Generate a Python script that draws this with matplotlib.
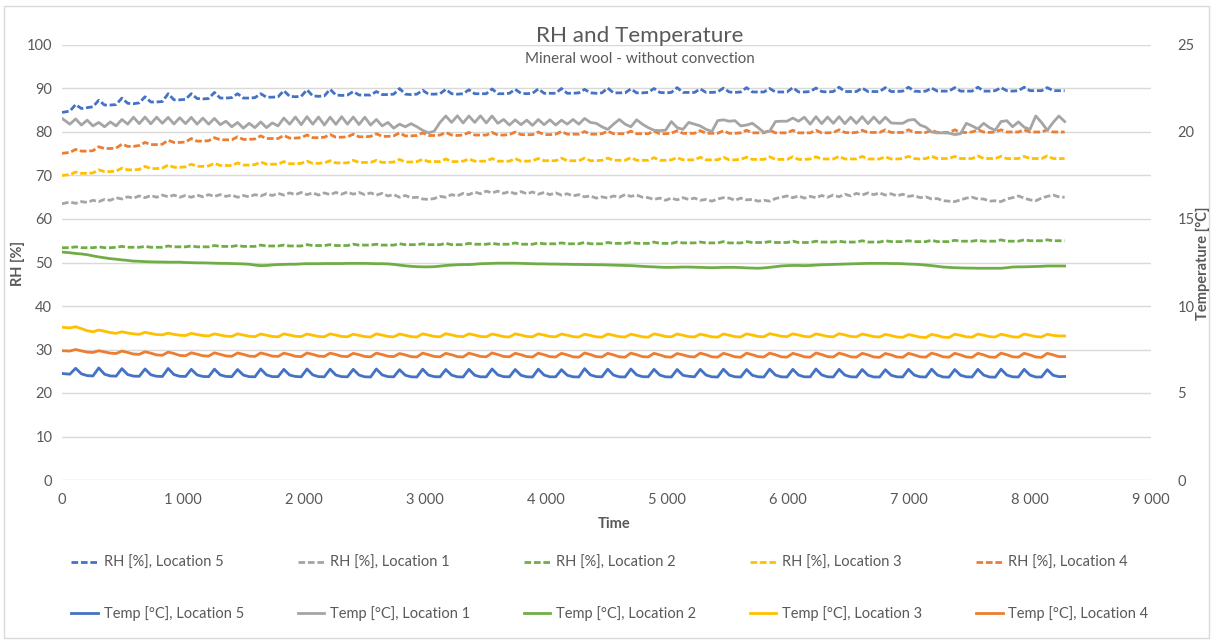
import numpy as np
import matplotlib
matplotlib.use("Agg")
import matplotlib.pyplot as plt
from matplotlib.ticker import FuncFormatter, MultipleLocator
from matplotlib.patches import Rectangle

plt.rcParams['font.family'] = ['Lato', 'DejaVu Sans']

# ---------------- data ----------------
sample_interval = 47.8
time = np.concatenate([[0.0], 17 + sample_interval * np.arange(1, 174)])

rh_loc5 = [84.5, 84.8,
    86.3, 85.4, 85.6, 85.8, 87.3, 86.2, 86.2, 86.3, 87.8, 86.6, 86.5, 86.7, 88.1, 86.9, 86.9, 87.0,
    88.8, 87.4, 87.4, 87.5, 88.8, 87.7, 87.6, 87.7, 89.1, 87.8, 87.8, 87.9, 88.8, 87.8, 87.8, 87.9,
    88.8, 88.0, 88.0, 88.1, 89.5, 88.2, 88.1, 88.2, 89.7, 88.3, 88.2, 88.3, 89.8, 88.5, 88.4, 88.5,
    89.3, 88.5, 88.5, 88.5, 89.3, 88.6, 88.6, 88.7, 90.0, 88.7, 88.6, 88.7, 89.6, 88.7, 88.7, 88.8,
    89.8, 88.8, 88.7, 88.8, 89.7, 88.8, 88.8, 88.8, 89.9, 88.8, 88.8, 88.9, 89.8, 88.9, 88.8, 88.9,
    89.9, 88.9, 88.9, 88.9, 90.0, 88.9, 88.9, 89.0, 89.8, 89.0, 88.9, 89.0, 90.1, 89.0, 89.0, 89.0,
    89.9, 89.0, 89.0, 89.1, 90.0, 89.1, 89.0, 89.1, 90.2, 89.1, 89.1, 89.1, 89.9, 89.1, 89.1, 89.2,
    90.1, 89.2, 89.1, 89.2, 90.2, 89.2, 89.2, 89.2, 90.0, 89.2, 89.2, 89.2, 90.2, 89.2, 89.2, 89.3,
    90.1, 89.3, 89.2, 89.3, 90.3, 89.3, 89.3, 89.3, 90.1, 89.3, 89.3, 89.3, 90.2, 89.3, 89.3, 89.4,
    90.3, 89.4, 89.3, 89.4, 90.1, 89.4, 89.4, 89.4, 90.2, 89.4, 89.4, 89.4, 90.3, 89.4, 89.4, 89.5,
    90.2, 89.5, 89.4, 89.5, 90.3, 89.5, 89.5, 89.5, 90.2, 89.5, 89.5, 89.5]

rh_loc1 = [63.5, 63.9, 63.6, 64.0, 63.8, 64.3, 64.0, 64.5, 64.3, 64.9,
    64.6, 65.1, 64.8, 65.3, 64.9, 65.4, 65.0, 65.5, 65.1, 65.5,
    65.0, 65.4, 65.0, 65.5, 65.1, 65.6, 65.2, 65.6, 65.2, 65.5,
    65.0, 65.4, 65.1, 65.6, 65.3, 65.8, 65.4, 65.9, 65.5, 66.0,
    65.6, 66.1, 65.6, 66.0, 65.5, 66.0, 65.6, 66.1, 65.7, 66.2,
    65.7, 66.1, 65.6, 66.0, 65.5, 65.9, 65.3, 65.6, 65.0, 65.4,
    64.9, 65.0, 64.6, 64.5, 64.7, 65.2, 65.0, 65.6, 65.3, 65.9,
    65.6, 66.2, 65.8, 66.4, 66.0, 66.4, 65.9, 66.3, 65.8, 66.3,
    65.8, 66.2, 65.7, 66.1, 65.6, 66.0, 65.5, 65.8, 65.3, 65.6,
    65.1, 65.3, 64.8, 65.1, 64.8, 65.3, 65.0, 65.6, 65.2, 65.5,
    65.0, 64.9, 64.5, 64.8, 64.3, 64.8, 64.4, 64.9, 64.5, 64.8,
    64.3, 64.5, 64.1, 64.6, 64.9, 64.8, 64.3, 64.8, 64.4, 64.5,
    64.1, 64.3, 64.1, 64.7, 65.0, 65.3, 64.9, 65.3, 64.8, 65.2,
    64.9, 65.4, 65.0, 65.5, 65.1, 65.7, 65.3, 65.9, 65.5, 66.0,
    65.6, 66.0, 65.5, 65.8, 65.3, 65.7, 65.2, 65.4, 64.9, 65.1,
    64.6, 64.7, 64.2, 64.1, 64.0, 64.4, 64.8, 65.0, 64.6, 64.6,
    64.1, 64.2, 64.0, 64.6, 64.9, 65.3, 64.8, 64.4, 64.2, 64.8,
    65.2, 65.5, 65.1, 65.0]

rh_loc2 = [53.4, 53.4,
    53.6, 53.4, 53.4, 53.4, 53.6, 53.4, 53.4, 53.5, 53.7, 53.5, 53.5, 53.5, 53.7, 53.5, 53.5, 53.5,
    53.8, 53.6, 53.6, 53.6, 53.8, 53.6, 53.6, 53.6, 53.9, 53.7, 53.7, 53.7, 53.9, 53.7, 53.7, 53.7,
    54.0, 53.8, 53.8, 53.8, 54.0, 53.8, 53.8, 53.8, 54.1, 53.9, 53.9, 53.9, 54.1, 53.9, 53.9, 53.9,
    54.2, 54.0, 54.0, 54.0, 54.2, 54.0, 54.0, 54.0, 54.3, 54.1, 54.1, 54.1, 54.3, 54.1, 54.1, 54.1,
    54.4, 54.1, 54.1, 54.1, 54.4, 54.2, 54.2, 54.2, 54.4, 54.2, 54.2, 54.2, 54.5, 54.2, 54.2, 54.2,
    54.5, 54.3, 54.3, 54.3, 54.5, 54.3, 54.3, 54.3, 54.6, 54.3, 54.3, 54.3, 54.6, 54.4, 54.4, 54.4,
    54.6, 54.4, 54.4, 54.4, 54.7, 54.4, 54.4, 54.4, 54.7, 54.5, 54.5, 54.5, 54.7, 54.5, 54.5, 54.5,
    54.8, 54.5, 54.5, 54.5, 54.8, 54.6, 54.6, 54.6, 54.8, 54.6, 54.6, 54.6, 54.9, 54.6, 54.6, 54.6,
    54.9, 54.7, 54.7, 54.7, 54.9, 54.7, 54.7, 54.7, 55.0, 54.7, 54.7, 54.7, 55.0, 54.8, 54.8, 54.8,
    55.0, 54.8, 54.8, 54.8, 55.1, 54.8, 54.8, 54.8, 55.1, 54.9, 54.9, 54.9, 55.1, 54.9, 54.9, 54.9,
    55.2, 54.9, 54.9, 54.9, 55.2, 55.0, 55.0, 55.0, 55.2, 55.0, 55.0, 55.0]

rh_loc3 = [70.0, 70.2,
    70.8, 70.5, 70.5, 70.6, 71.3, 70.9, 70.9, 71.0, 71.7, 71.3, 71.3, 71.4, 72.1, 71.6, 71.6, 71.7,
    72.4, 71.9, 71.9, 72.0, 72.6, 72.1, 72.1, 72.2, 72.8, 72.3, 72.3, 72.3, 72.9, 72.4, 72.4, 72.5,
    73.1, 72.6, 72.6, 72.6, 73.2, 72.7, 72.7, 72.8, 73.3, 72.8, 72.8, 72.9, 73.4, 72.9, 72.9, 72.9,
    73.5, 73.0, 73.0, 73.0, 73.5, 73.0, 73.0, 73.1, 73.7, 73.1, 73.1, 73.2, 73.7, 73.2, 73.2, 73.2,
    73.8, 73.2, 73.2, 73.3, 73.8, 73.3, 73.3, 73.3, 73.9, 73.3, 73.3, 73.3, 73.9, 73.3, 73.3, 73.4,
    73.9, 73.4, 73.4, 73.4, 74.0, 73.4, 73.4, 73.4, 74.0, 73.4, 73.4, 73.5, 74.0, 73.5, 73.5, 73.5,
    74.1, 73.5, 73.5, 73.5, 74.1, 73.5, 73.5, 73.6, 74.1, 73.6, 73.6, 73.6, 74.2, 73.6, 73.6, 73.6,
    74.2, 73.6, 73.6, 73.7, 74.2, 73.7, 73.7, 73.7, 74.3, 73.7, 73.7, 73.7, 74.3, 73.7, 73.7, 73.8,
    74.3, 73.8, 73.8, 73.8, 74.4, 73.8, 73.8, 73.8, 74.4, 73.8, 73.8, 73.8, 74.3, 73.8, 73.8, 73.9,
    74.4, 73.9, 73.8, 73.9, 74.4, 73.9, 73.9, 73.9, 74.4, 73.9, 73.9, 73.9, 74.5, 73.9, 73.9, 73.9,
    74.4, 73.9, 73.9, 73.9, 74.4, 73.9, 73.9, 73.9, 74.5, 73.9, 73.9, 73.9]

rh_loc4 = [75.1, 75.3,
    76.0, 75.6, 75.6, 75.7, 76.6, 76.2, 76.2, 76.3, 77.2, 76.7, 76.7, 76.9, 77.6, 77.1, 77.1, 77.2,
    78.1, 77.6, 77.6, 77.7, 78.5, 77.9, 77.9, 78.0, 78.7, 78.2, 78.2, 78.2, 78.9, 78.3, 78.3, 78.4,
    79.1, 78.5, 78.5, 78.5, 79.2, 78.6, 78.6, 78.7, 79.3, 78.7, 78.7, 78.8, 79.4, 78.8, 78.8, 78.9,
    79.5, 78.9, 78.9, 79.0, 79.6, 79.0, 79.0, 79.1, 79.8, 79.1, 79.1, 79.2, 79.8, 79.2, 79.2, 79.3,
    79.9, 79.3, 79.2, 79.3, 79.9, 79.3, 79.3, 79.3, 79.9, 79.3, 79.3, 79.4, 80.0, 79.4, 79.4, 79.4,
    80.0, 79.4, 79.4, 79.5, 80.1, 79.5, 79.5, 79.5, 80.1, 79.5, 79.5, 79.6, 80.2, 79.6, 79.6, 79.6,
    80.2, 79.6, 79.6, 79.6, 80.2, 79.6, 79.6, 79.7, 80.3, 79.7, 79.7, 79.7, 80.3, 79.7, 79.7, 79.7,
    80.3, 79.7, 79.7, 79.8, 80.4, 79.8, 79.8, 79.8, 80.4, 79.8, 79.8, 79.8, 80.4, 79.8, 79.8, 79.8,
    80.4, 79.8, 79.8, 79.9, 80.5, 79.9, 79.8, 79.9, 80.4, 79.9, 79.9, 79.9, 80.5, 79.9, 79.9, 79.9,
    80.5, 79.9, 79.9, 79.9, 80.4, 79.9, 79.9, 79.9, 80.5, 79.9, 79.9, 80.0, 80.5, 80.0, 79.9, 80.0,
    80.5, 80.0, 80.0, 80.0, 80.5, 80.0, 80.0, 80.0, 80.5, 80.0, 80.0, 80.0]

temp_loc5 = [6.12, 6.08,
    6.42, 6.10, 6.00, 5.98, 6.44, 6.08, 5.98, 5.97, 6.40, 6.06, 5.97, 5.96, 6.38, 6.05, 5.96, 5.95,
    6.41, 6.06, 5.96, 5.95, 6.36, 6.04, 5.95, 5.94, 6.37, 6.04, 5.95, 5.94, 6.35, 6.03, 5.94, 5.93,
    6.38, 6.04, 5.94, 5.94, 6.36, 6.03, 5.95, 5.93, 6.38, 6.04, 5.94, 5.93, 6.37, 6.03, 5.94, 5.93,
    6.36, 6.03, 5.93, 5.92, 6.38, 6.04, 5.94, 5.93, 6.34, 6.02, 5.93, 5.92, 6.37, 6.03, 5.94, 5.93,
    6.35, 6.03, 5.93, 5.92, 6.36, 6.02, 5.93, 5.93, 6.38, 6.04, 5.94, 5.93, 6.35, 6.02, 5.93, 5.92,
    6.37, 6.03, 5.93, 5.93, 6.34, 6.02, 5.93, 5.92, 6.40, 6.04, 5.94, 5.93, 6.37, 6.03, 5.93, 5.92,
    6.38, 6.04, 5.94, 5.93, 6.36, 6.03, 5.93, 5.92, 6.35, 6.02, 5.96, 5.93, 6.36, 6.03, 5.93, 5.92,
    6.37, 6.03, 5.93, 5.92, 6.35, 6.02, 5.93, 5.92, 6.37, 6.03, 5.93, 5.92, 6.36, 6.03, 5.93, 5.93,
    6.38, 6.04, 5.93, 5.92, 6.36, 6.03, 5.93, 5.92, 6.35, 6.02, 5.92, 5.92, 6.34, 6.02, 5.93, 5.92,
    6.36, 6.03, 5.93, 5.92, 6.37, 6.03, 5.92, 5.91, 6.35, 6.02, 5.93, 5.92, 6.36, 6.03, 5.92, 5.91,
    6.37, 6.03, 5.93, 5.92, 6.36, 6.03, 5.92, 5.92, 6.34, 6.02, 5.94, 5.95]

temp_loc1 = [20.78, 20.45, 20.75, 20.40, 20.68, 20.35, 20.55, 20.30, 20.58, 20.35,
    20.72, 20.45, 20.85, 20.48, 20.86, 20.47, 20.85, 20.50, 20.84, 20.46,
    20.82, 20.48, 20.84, 20.45, 20.80, 20.45, 20.78, 20.42, 20.62, 20.30,
    20.55, 20.22, 20.50, 20.25, 20.58, 20.25, 20.52, 20.35, 20.80, 20.45,
    20.86, 20.42, 20.88, 20.45, 20.86, 20.40, 20.85, 20.44, 20.88, 20.45,
    20.86, 20.43, 20.85, 20.40, 20.72, 20.35, 20.55, 20.22, 20.45, 20.30,
    20.48, 20.30, 20.10, 19.95, 20.05, 20.55, 20.92, 20.55, 20.93, 20.52,
    20.92, 20.55, 20.93, 20.52, 20.92, 20.50, 20.72, 20.40, 20.70, 20.42,
    20.68, 20.38, 20.72, 20.42, 20.70, 20.40, 20.68, 20.45, 20.72, 20.45,
    20.78, 20.55, 20.50, 20.30, 20.15, 20.45, 20.72, 20.45, 20.30, 20.70,
    20.45, 20.25, 20.10, 20.08, 20.10, 20.60, 20.25, 20.15, 20.55, 20.45,
    20.35, 20.15, 20.03, 20.65, 20.70, 20.62, 20.65, 20.35, 20.40, 20.50,
    20.25, 19.98, 20.05, 20.60, 20.62, 20.62, 20.80, 20.62, 20.85, 20.45,
    20.88, 20.48, 20.86, 20.50, 20.88, 20.48, 20.85, 20.50, 20.88, 20.48,
    20.86, 20.50, 20.85, 20.52, 20.50, 20.50, 20.68, 20.72, 20.40, 20.28,
    20.00, 19.95, 19.95, 19.93, 19.85, 19.90, 20.50, 20.35, 20.18, 20.50,
    20.25, 20.10, 20.60, 20.65, 20.30, 20.58, 20.28, 20.15, 20.92, 20.55,
    20.10, 20.55, 20.92, 20.60]

temp_loc2 = [13.10, 13.06, 13.02, 12.99, 12.95, 12.88, 12.82, 12.77, 12.72, 12.69,
    12.65, 12.62, 12.58, 12.57, 12.55, 12.54, 12.53, 12.53, 12.52, 12.52,
    12.52, 12.50, 12.49, 12.48, 12.48, 12.47, 12.46, 12.45, 12.45, 12.44,
    12.43, 12.42, 12.40, 12.35, 12.32, 12.33, 12.36, 12.38, 12.39, 12.40,
    12.40, 12.42, 12.43, 12.43, 12.43, 12.44, 12.44, 12.44, 12.44, 12.45,
    12.45, 12.45, 12.45, 12.44, 12.43, 12.43, 12.42, 12.39, 12.35, 12.31,
    12.28, 12.26, 12.25, 12.25, 12.26, 12.29, 12.33, 12.35, 12.37, 12.38,
    12.38, 12.40, 12.43, 12.44, 12.45, 12.46, 12.46, 12.46, 12.46, 12.45,
    12.44, 12.43, 12.42, 12.42, 12.41, 12.41, 12.40, 12.40, 12.39, 12.39,
    12.38, 12.38, 12.37, 12.37, 12.36, 12.35, 12.34, 12.33, 12.32, 12.30,
    12.28, 12.26, 12.25, 12.23, 12.22, 12.22, 12.23, 12.24, 12.24, 12.23,
    12.22, 12.21, 12.20, 12.21, 12.22, 12.22, 12.22, 12.21, 12.19, 12.18,
    12.17, 12.19, 12.22, 12.26, 12.30, 12.32, 12.33, 12.33, 12.32, 12.33,
    12.35, 12.37, 12.38, 12.39, 12.40, 12.41, 12.42, 12.43, 12.44, 12.45,
    12.45, 12.45, 12.45, 12.44, 12.44, 12.43, 12.41, 12.40, 12.38, 12.35,
    12.32, 12.28, 12.24, 12.22, 12.20, 12.19, 12.18, 12.18, 12.17, 12.17,
    12.17, 12.17, 12.17, 12.20, 12.24, 12.25, 12.25, 12.26, 12.27, 12.28,
    12.30, 12.30, 12.30, 12.30]

temp_loc3 = [8.78, 8.74,
    8.81, 8.70, 8.58, 8.52, 8.62, 8.55, 8.47, 8.43, 8.52, 8.45, 8.40, 8.37, 8.49, 8.42, 8.36, 8.34,
    8.44, 8.37, 8.32, 8.30, 8.43, 8.36, 8.30, 8.28, 8.40, 8.33, 8.27, 8.25, 8.40, 8.33, 8.26, 8.24,
    8.39, 8.32, 8.25, 8.23, 8.40, 8.33, 8.26, 8.24, 8.39, 8.32, 8.25, 8.23, 8.40, 8.33, 8.25, 8.23,
    8.38, 8.31, 8.24, 8.22, 8.40, 8.33, 8.25, 8.23, 8.39, 8.32, 8.24, 8.22, 8.40, 8.33, 8.25, 8.23,
    8.41, 8.34, 8.26, 8.24, 8.40, 8.33, 8.25, 8.23, 8.39, 8.32, 8.24, 8.22, 8.40, 8.33, 8.25, 8.23,
    8.40, 8.33, 8.25, 8.23, 8.39, 8.32, 8.24, 8.22, 8.38, 8.31, 8.23, 8.21, 8.39, 8.32, 8.24, 8.22,
    8.38, 8.31, 8.23, 8.21, 8.40, 8.33, 8.25, 8.23, 8.39, 8.32, 8.24, 8.22, 8.38, 8.31, 8.23, 8.21,
    8.39, 8.32, 8.24, 8.22, 8.40, 8.33, 8.25, 8.23, 8.41, 8.34, 8.26, 8.24, 8.40, 8.33, 8.25, 8.23,
    8.40, 8.33, 8.25, 8.23, 8.41, 8.34, 8.25, 8.23, 8.39, 8.32, 8.24, 8.22, 8.37, 8.30, 8.22, 8.20,
    8.36, 8.29, 8.21, 8.19, 8.37, 8.30, 8.21, 8.19, 8.38, 8.31, 8.23, 8.21, 8.39, 8.32, 8.24, 8.22,
    8.38, 8.31, 8.23, 8.21, 8.39, 8.32, 8.24, 8.22, 8.38, 8.31, 8.28, 8.28]

temp_loc4 = [7.43, 7.41,
    7.50, 7.42, 7.35, 7.33, 7.43, 7.36, 7.29, 7.27, 7.41, 7.33, 7.24, 7.22, 7.37, 7.29, 7.19, 7.17,
    7.35, 7.27, 7.16, 7.14, 7.31, 7.23, 7.14, 7.12, 7.31, 7.22, 7.13, 7.11, 7.30, 7.22, 7.12, 7.10,
    7.30, 7.22, 7.12, 7.10, 7.29, 7.21, 7.11, 7.09, 7.30, 7.22, 7.12, 7.10, 7.29, 7.21, 7.11, 7.09,
    7.28, 7.20, 7.10, 7.08, 7.29, 7.21, 7.11, 7.09, 7.27, 7.19, 7.09, 7.07, 7.29, 7.20, 7.10, 7.08,
    7.28, 7.20, 7.09, 7.07, 7.29, 7.20, 7.10, 7.08, 7.30, 7.21, 7.10, 7.08, 7.28, 7.20, 7.09, 7.07,
    7.29, 7.20, 7.09, 7.07, 7.28, 7.19, 7.08, 7.06, 7.30, 7.21, 7.09, 7.07, 7.28, 7.19, 7.08, 7.06,
    7.29, 7.20, 7.09, 7.07, 7.28, 7.19, 7.08, 7.06, 7.27, 7.19, 7.10, 7.07, 7.29, 7.20, 7.08, 7.06,
    7.28, 7.19, 7.08, 7.06, 7.29, 7.20, 7.09, 7.07, 7.29, 7.20, 7.08, 7.06, 7.28, 7.19, 7.08, 7.06,
    7.30, 7.21, 7.09, 7.07, 7.29, 7.20, 7.08, 7.06, 7.28, 7.19, 7.07, 7.05, 7.27, 7.19, 7.07, 7.05,
    7.28, 7.19, 7.08, 7.06, 7.29, 7.20, 7.08, 7.06, 7.28, 7.19, 7.07, 7.05, 7.28, 7.19, 7.07, 7.05,
    7.29, 7.20, 7.08, 7.06, 7.28, 7.19, 7.07, 7.05, 7.28, 7.19, 7.09, 7.09]

locations = ["Location 5", "Location 1", "Location 2", "Location 3", "Location 4"]
rh_series = [rh_loc5, rh_loc1, rh_loc2, rh_loc3, rh_loc4]
temp_series = [temp_loc5, temp_loc1, temp_loc2, temp_loc3, temp_loc4]
colors = ["#4472C4", "#A5A5A5", "#70AD47", "#FFC000", "#ED7D31"]

for s in rh_series + temp_series:
    if len(s) != len(time):
        raise ValueError(f"length {len(s)} != {len(time)}")

# ---------------- figure ----------------
W, H = 1213, 643
fig = plt.figure(figsize=(W / 100, H / 100), dpi=100)
fig.patch.set_facecolor("white")
fig.add_artist(Rectangle((4 / W, 1 - 638 / H), 1205 / W, 632 / H, transform=fig.transFigure,
                         fill=False, edgecolor="#D9D9D9", lw=1.0))

ax = fig.add_axes([62 / W, 1 - 480 / H, 1089 / W, 435 / H])
ax2 = ax.twinx()

txt = "#595959"
lw = 2.0
dash = (0, (2.4, 1.0))

handles = []
for loc, rh, tp, c in zip(locations, rh_series, temp_series, colors):
    h1, = ax.plot(time, rh, color=c, lw=lw, linestyle=dash, label=f"RH [%], {loc}")
    h2, = ax2.plot(time, tp, color=c, lw=lw, label=f"Temp [°C], {loc}")
    handles += [h1, h2]

ax.set_xlim(0, 9000)
ax.set_ylim(0, 100)
ax2.set_ylim(0, 25)
ax.xaxis.set_major_locator(MultipleLocator(1000))
ax.yaxis.set_major_locator(MultipleLocator(10))
ax2.yaxis.set_major_locator(MultipleLocator(5))
ax.xaxis.set_major_formatter(FuncFormatter(lambda v, p: f"{int(v):,}".replace(",", " ")))

ax.grid(axis="y", color="#D9D9D9", lw=1.0)
ax.set_axisbelow(True)
for a in (ax, ax2):
    for sp in a.spines.values():
        sp.set_visible(False)
ax.tick_params(axis="both", length=0, labelsize=10.5, labelcolor=txt)
ax.tick_params(axis="y", pad=7)
ax.tick_params(axis="x", pad=9)
ax2.tick_params(axis="y", length=0, labelsize=10.5, labelcolor=txt, pad=19)

fig.text(640 / W, 1 - 36 / H, "RH and Temperature", ha="center", va="center",
         fontsize=16.2, color=txt)
fig.text(640 / W, 1 - 59 / H, "Mineral wool - without convection", ha="center", va="center",
         fontsize=10.9, color=txt)
fig.text(18 / W, 1 - 263 / H, "RH [%]", rotation=90, ha="center", va="center",
         fontsize=10.5, color=txt, weight="bold")
fig.text(1203 / W, 1 - 263 / H, "Temperature [°C]", rotation=90, ha="center", va="center",
         fontsize=10.5, color=txt, weight="bold")
fig.text(614 / W, 1 - 524 / H, "Time", ha="center", va="center",
         fontsize=10.5, color=txt, weight="bold")

leg = fig.legend(handles=handles, loc="center", bbox_to_anchor=(610 / W, 1 - 588.5 / H),
                 ncol=5, frameon=False, fontsize=10.5, handlelength=1.8, handletextpad=0.4,
                 columnspacing=3.7, labelspacing=2.5, labelcolor=txt)

fig.savefig("out.png", dpi=100, facecolor="white")
